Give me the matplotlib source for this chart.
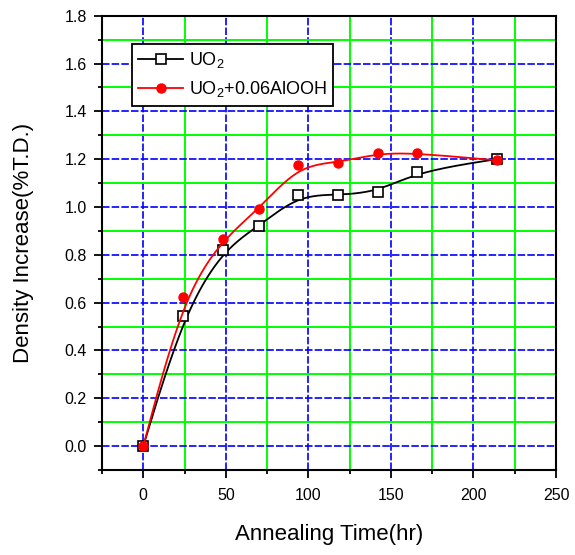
import numpy as np
import matplotlib
matplotlib.use("Agg")
import matplotlib.pyplot as plt
from matplotlib.ticker import MultipleLocator, FormatStrFormatter
from matplotlib.lines import Line2D

plt.rcParams['font.family'] = ['Liberation Sans', 'DejaVu Sans']
plt.rcParams['mathtext.default'] = 'regular'

# annealing time (hr)
time_uo2 = [0, 24, 48, 70, 94, 118, 142, 166, 214]
dens_uo2 = [0.0, 0.545, 0.82, 0.92, 1.05, 1.05, 1.063, 1.148, 1.20]
time_al = [0, 24, 48, 70, 94, 118, 142, 166, 214]
dens_al = [0.0, 0.622, 0.865, 0.99, 1.175, 1.185, 1.225, 1.225, 1.195]


def bspline(xs, ys, per_seg=40):
    # uniform cubic B-spline, end points tripled so the curve starts/ends on them
    P = np.column_stack([xs, ys]).astype(float)
    Q = np.vstack([P[:1], P[:1], P, P[-1:], P[-1:]])
    t = np.linspace(0, 1, per_seg, endpoint=False)
    b0 = (1 - t) ** 3 / 6
    b1 = (3 * t ** 3 - 6 * t ** 2 + 4) / 6
    b2 = (-3 * t ** 3 + 3 * t ** 2 + 3 * t + 1) / 6
    b3 = t ** 3 / 6
    pts = []
    for i in range(len(Q) - 3):
        seg = (np.outer(b0, Q[i]) + np.outer(b1, Q[i + 1]) +
               np.outer(b2, Q[i + 2]) + np.outer(b3, Q[i + 3]))
        pts.append(seg)
    pts.append(P[-1:])
    pts = np.vstack(pts)
    return pts[:, 0], pts[:, 1]


fig = plt.figure(figsize=(5.75, 5.55), dpi=100)
ax = fig.add_axes([102 / 575, 85 / 555, 454 / 575, 454.3 / 555])

ax.set_xlim(-25, 250)
ax.set_ylim(-0.1, 1.8)
ax.xaxis.set_major_locator(MultipleLocator(50))
ax.xaxis.set_minor_locator(MultipleLocator(25))
ax.yaxis.set_major_locator(MultipleLocator(0.2))
ax.yaxis.set_minor_locator(MultipleLocator(0.1))
ax.yaxis.set_major_formatter(FormatStrFormatter('%.1f'))

ax.grid(which='minor', color='#00ff00', linestyle='-', linewidth=1.4, zorder=0)
ax.grid(which='major', color='#0000ff', linestyle=(0, (4.5, 1.3)), linewidth=1.2, zorder=0)
ax.set_axisbelow(True)

ax.tick_params(which='major', direction='out', length=6, width=1.3, labelsize=11.5,
               top=False, right=False, colors='black', pad=5)
ax.tick_params(which='minor', direction='out', length=3, width=1.3, top=False, right=False)
ax.tick_params(axis='x', which='major', pad=7)
for s in ax.spines.values():
    s.set_linewidth(1.5)

bx, by = bspline(time_uo2, dens_uo2)
ax.plot(bx, by, color='black', linewidth=1.3, zorder=3)
ax.plot(time_uo2, dens_uo2, linestyle='none', marker='s', markersize=7,
        markerfacecolor='white', markeredgecolor='black', markeredgewidth=1.2, zorder=4)

rx, ry = bspline(time_al, dens_al)
ax.plot(rx, ry, color='red', linewidth=1.3, zorder=5)
ax.plot(time_al, dens_al, linestyle='none', marker='o', markersize=6.5,
        color='red', zorder=6)

handles = [
    Line2D([], [], color='black', linewidth=1.3, marker='s', markersize=7,
           markerfacecolor='white', markeredgecolor='black', markeredgewidth=1.2),
    Line2D([], [], color='red', linewidth=1.3, marker='o', markersize=6.5),
]
leg = ax.legend(handles, ['UO$_2$', 'UO$_2$+0.06AlOOH'], loc='upper left',
                bbox_to_anchor=(0.066, 0.938), fontsize=13, frameon=True, fancybox=False,
                edgecolor='black', framealpha=1, numpoints=1, handlelength=2.5,
                borderpad=0.35, labelspacing=0.5, handletextpad=0.3, borderaxespad=0)
leg.get_frame().set_linewidth(1.3)

ax.set_xlabel('Annealing Time(hr)', fontsize=16, labelpad=15)
ax.set_ylabel('Density Increase(%T.D.)', fontsize=16, labelpad=22)

fig.savefig('out.png', dpi=100)
